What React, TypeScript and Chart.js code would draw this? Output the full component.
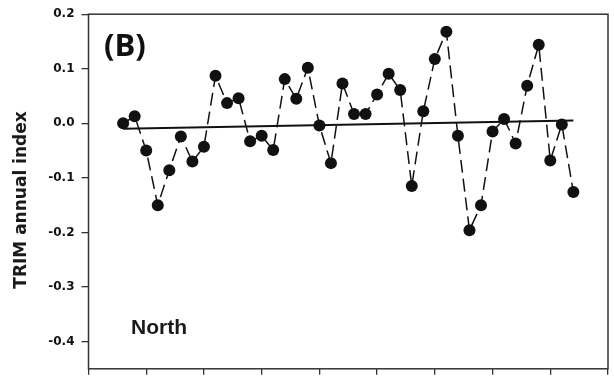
import React, { useEffect, useRef } from "react";
import { Chart, registerables } from "chart.js";

Chart.register(...registerables);

const years = [
  1973, 1974, 1975, 1976, 1977, 1978, 1979, 1980, 1981, 1982,
  1983, 1984, 1985, 1986, 1987, 1988, 1989, 1990, 1991, 1992,
  1993, 1994, 1995, 1996, 1997, 1998, 1999, 2000, 2001, 2002,
  2003, 2004, 2005, 2006, 2007, 2008, 2009, 2010, 2011, 2012,
];

const trimIndex = [
  0.0, 0.013, -0.05, -0.15, -0.086, -0.024, -0.07, -0.043, 0.087, 0.037,
  0.046, -0.033, -0.023, -0.049, 0.081, 0.045, 0.102, -0.004, -0.073, 0.073,
  0.017, 0.017, 0.053, 0.091, 0.061, -0.115, 0.022, 0.118, 0.168, -0.023,
  -0.196, -0.15, -0.015, 0.008, -0.037, 0.069, 0.144, -0.068, -0.002, -0.126,
];

const trendYears = [1973, 2012];
const trendValues = [-0.01, 0.005];

const yTickValues = [0.2, 0.1, 0.0, -0.1, -0.2, -0.3, -0.4];
const xTickYears = [1970, 1975, 1980, 1985, 1990, 1995, 2000, 2005, 2010, 2015];

const yAxisTitle = "TRIM annual index";
const panelLabel = "(B)";
const regionLabel = "North";

const decorPlugin = {
  id: "decor",
  afterDraw(chart: any) {
    const { ctx, chartArea } = chart;
    ctx.save();
    ctx.strokeStyle = "#333";
    ctx.lineWidth = 1.5;
    ctx.strokeRect(
      chartArea.left,
      chartArea.top,
      chartArea.right - chartArea.left,
      chartArea.bottom - chartArea.top
    );
    ctx.fillStyle = "#111";
    ctx.textAlign = "left";
    ctx.textBaseline = "alphabetic";
    ctx.font = "bold 31px 'Open Sans'";
    ctx.fillText(panelLabel, 104, 56);
    ctx.font = "bold 21px 'Liberation Sans'";
    ctx.fillStyle = "#1a1a1a";
    ctx.fillText(regionLabel, 131, 334);
    ctx.translate(22, 200);
    ctx.rotate(-Math.PI / 2);
    ctx.textAlign = "center";
    ctx.textBaseline = "middle";
    ctx.font = "bold 17px 'DejaVu Sans'";
    ctx.fillStyle = "#1a1a1a";
    ctx.fillText(yAxisTitle, 0, 0);
    ctx.restore();
  },
};

export default function App() {
  const ref = useRef<HTMLCanvasElement>(null);

  useEffect(() => {
    if (!ref.current) return;
    const chart = new Chart(ref.current, {
      type: "line",
      data: {
        datasets: [
          {
            data: years.map((y, i) => ({ x: y, y: trimIndex[i] })),
            borderColor: "#111",
            borderWidth: 1.5,
            borderDash: [13, 6],
            pointRadius: 6,
            pointBackgroundColor: "#111",
            pointBorderColor: "#111",
            pointBorderWidth: 0,
            tension: 0,
            order: 1,
          },
          {
            data: trendYears.map((y, i) => ({ x: y, y: trendValues[i] })),
            borderColor: "#111",
            borderWidth: 2,
            pointRadius: 0,
            order: 0,
          },
        ],
      },
      plugins: [decorPlugin],
      options: {
        animation: false,
        responsive: false,
        layout: { padding: { left: 0, right: 4.5, top: 13.3, bottom: 0 } },
        plugins: {
          legend: { display: false },
          tooltip: { enabled: false },
          title: { display: false },
        },
        scales: {
          x: {
            type: "linear",
            min: 1970,
            max: 2015,
            afterBuildTicks: (s: any) => {
              s.ticks = xTickYears.map((v) => ({ value: v }));
            },
            afterFit: (s: any) => {
              s.height = 4.3;
            },
            ticks: { display: false },
            grid: {
              drawOnChartArea: false,
              drawTicks: true,
              tickLength: 6,
              color: "#333",
              lineWidth: 1.3,
            },
            border: { display: false },
          },
          y: {
            type: "linear",
            min: -0.45,
            max: 0.2,
            afterBuildTicks: (s: any) => {
              s.ticks = yTickValues.map((v) => ({ value: v }));
            },
            afterFit: (s: any) => {
              s.width = 88.5;
            },
            ticks: {
              padding: 7,
              color: "#111",
              font: { family: "'DejaVu Sans'", weight: "bold", size: 12 },
              callback: (v: any) => Number(v).toFixed(1),
            },
            grid: {
              drawOnChartArea: false,
              drawTicks: true,
              tickLength: 7,
              color: "#333",
              lineWidth: 1.3,
            },
            border: { display: false },
          },
        },
      },
    });
    return () => chart.destroy();
  }, []);

  return (
    <canvas
      ref={ref}
      width={614}
      height={383}
      style={{ position: "fixed", left: 0, top: 0, display: "block", background: "#fff" }}
    />
  );
}
